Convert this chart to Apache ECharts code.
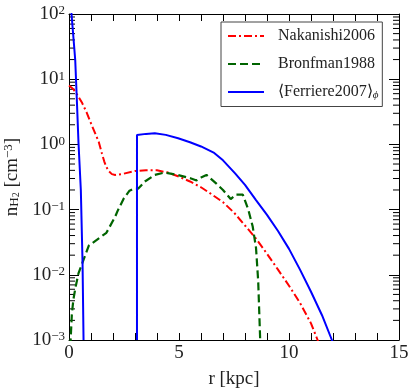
<!DOCTYPE html>
<html>
<head>
<meta charset="utf-8">
<script src="https://cdn.jsdelivr.net/npm/echarts@6/dist/echarts.min.js"></script>
<style>
  html, body { margin: 0; padding: 0; background: #fff; }
  #chart { width: 413px; height: 391px; }
</style>
</head>
<body>
<div id="chart"></div>
<script>
// Nakanishi2006 (red, dash-dot)
var rNak = [0, 0.2, 0.4, 0.6, 0.8, 1.0, 1.2, 1.35, 1.5, 1.6, 1.7, 1.8, 1.95, 2.1, 2.4, 3.0, 3.5, 4.0, 4.5, 5.0, 5.5, 6.0, 6.5, 7.0, 7.5, 8.0, 8.5, 9.0, 9.5, 10.0, 10.5, 11.0, 11.3, 11.6]
var nNak = [8.0, 7.0, 5.6, 4.3, 3.1, 2.1, 1.45, 1.1, 0.72, 0.55, 0.45, 0.39, 0.35, 0.34, 0.35, 0.39, 0.40, 0.40, 0.37, 0.32, 0.27, 0.22, 0.17, 0.13, 0.09, 0.057, 0.036, 0.021, 0.012, 0.0068, 0.0037, 0.0018, 0.001, 0.0005]

// Bronfman1988 (green, dashed)
var rBron = [0.06, 0.13, 0.2, 0.28, 0.43, 0.66, 0.9, 1.7, 2.1, 2.23, 2.5, 2.75, 2.95, 3.15, 3.45, 3.9, 4.35, 4.95, 5.55, 5.8, 6.0, 6.25, 6.7, 7.0, 7.35, 7.6, 7.9, 8.15, 8.35, 8.5, 8.6, 8.7]
var nBron = [0.0008, 0.0025, 0.0042, 0.006, 0.0105, 0.017, 0.028, 0.044, 0.078, 0.099, 0.15, 0.195, 0.21, 0.21, 0.27, 0.34, 0.37, 0.34, 0.30, 0.28, 0.31, 0.34, 0.25, 0.2, 0.145, 0.17, 0.17, 0.10, 0.055, 0.026, 0.008, 0.0008]

// <Ferriere2007>_phi (blue, solid); null breaks the line
var rFer = [0.03, 0.114, 0.2, 0.283, 0.36, 0.433, 0.538, 0.616, 0.661, 1.5, 3.09, 3.09, 3.5, 3.9, 4.4, 4.96, 5.5, 6.0, 6.6, 7.0, 7.55, 8.0, 8.5, 9.0, 9.5, 10.0, 10.5, 11.0, 11.5, 11.95, 12.1]
var nFer = [224, 100, 44, 19.7, 4.5, 1.03, 0.2, 0.015, 0.001, null, 0.001, 1.39, 1.45, 1.48, 1.4, 1.24, 1.08, 0.93, 0.74, 0.57, 0.36, 0.24, 0.14, 0.083, 0.047, 0.025, 0.012, 0.0055, 0.0024, 0.001, 0.0007]

// log axis minor tick values (2..9 x 10^d)
var minorTickVals = []
for (var d = -3; d < 2; d++) {
  for (var k = 2; k <= 9; k++) minorTickVals.push(k * Math.pow(10, d))
}

var FONT = 'Liberation Serif'

function zip(xs, ys) {
  return xs.map(function (x, i) { return [x, ys[i]] })
}

function supLabel(v) {
  var e = Math.round(Math.log10(v))
  return '{b|10}{e|' + (e < 0 ? '\u2212' + (-e) : e) + '}'
}

var chart = echarts.init(document.getElementById('chart'), null, { renderer: 'canvas' })

var xAxisBase = {
  type: 'value',
  min: 0,
  max: 15,
  interval: 1,
  axisLine: { show: true, onZero: false, lineStyle: { color: '#000', width: 1 } },
  axisTick: { show: true, inside: true, length: 7, lineStyle: { color: '#000', width: 1 } },
  splitLine: { show: false }
}

var yAxisBase = {
  type: 'log',
  logBase: 10,
  min: 0.001,
  max: 100,
  axisLine: { show: true, onZero: false, lineStyle: { color: '#000', width: 1 } },
  axisTick: { show: true, inside: true, length: 10, lineStyle: { color: '#000', width: 1 } },
  splitLine: { show: false },
  minorTick: { show: false }
}

var option = {
  animation: false,
  backgroundColor: '#fff',
  grid: { left: 69, right: 14, top: 14, bottom: 51, outerBoundsMode: 'none', containLabel: false },
  legend: {
    orient: 'vertical',
    left: 221,
    top: 22,
    padding: [6, 4, 6, 6],
    itemWidth: 36,
    itemHeight: 14,
    itemGap: 12,
    borderColor: '#444',
    borderWidth: 1,
    borderRadius: 0,
    itemStyle: { opacity: 0 },
    data: ['Nakanishi2006', 'Bronfman1988', 'Ferriere2007'],
    formatter: function (name) {
      if (name === 'Ferriere2007') return '{t|\u27e8Ferriere2007\u27e9}{s|\u03d5}'
      return '{t|' + name + '}'
    },
    textStyle: {
      fontFamily: FONT,
      fontSize: 16,
      color: '#222',
      padding: [0, 0, 0, 9],
      rich: {
        t: { fontFamily: FONT, fontSize: 16, color: '#222' },
        s: { fontFamily: FONT, fontSize: 11, fontStyle: 'italic', color: '#222', verticalAlign: 'bottom', padding: [6, 0, 0, 0] }
      }
    }
  },
  xAxis: [
    Object.assign({}, xAxisBase, {
      position: 'bottom',
      name: 'r [kpc]',
      nameLocation: 'middle',
      nameGap: 30,
      nameTextStyle: { fontFamily: FONT, fontSize: 19, color: '#222' },
      axisLabel: {
        show: true,
        interval: 0,
        margin: 4,
        fontFamily: FONT,
        fontSize: 19,
        color: '#222',
        formatter: function (v) { return v % 5 === 0 ? String(v) : '' }
      }
    }),
    Object.assign({}, xAxisBase, {
      position: 'top',
      axisLabel: { show: false }
    })
  ],
  yAxis: [
    Object.assign({}, yAxisBase, {
      position: 'left',
      name: '{a|n}{s|H}{t|2}{a| [cm}{p|\u22123}{a|]}',
      nameLocation: 'middle',
      nameGap: 41,
      nameRotate: 90,
      nameTextStyle: {
        fontFamily: FONT,
        fontSize: 19,
        color: '#222',
        rich: {
          a: { fontFamily: FONT, fontSize: 19, color: '#222' },
          s: { fontFamily: FONT, fontSize: 13, color: '#222', verticalAlign: 'bottom' },
          t: { fontFamily: FONT, fontSize: 10, color: '#222', verticalAlign: 'bottom' },
          p: { fontFamily: FONT, fontSize: 13, color: '#222', verticalAlign: 'top' }
        }
      },
      axisLabel: {
        show: true,
        margin: 4,
        formatter: supLabel,
        rich: {
          b: { fontFamily: FONT, fontSize: 19, color: '#222' },
          e: { fontFamily: FONT, fontSize: 13, color: '#222', verticalAlign: 'top' }
        }
      }
    }),
    Object.assign({}, yAxisBase, {
      position: 'right',
      axisLabel: { show: false }
    })
  ],
  series: [
    {
      name: 'Nakanishi2006',
      type: 'line',
      data: zip(rNak, nNak),
      showSymbol: false,
      symbol: 'none',
      clip: true,
      color: '#ff0000',
      lineStyle: { color: '#ff0000', width: 2, type: [8, 3, 2, 3] }
    },
    {
      name: 'Bronfman1988',
      type: 'line',
      data: zip(rBron, nBron),
      showSymbol: false,
      symbol: 'none',
      clip: true,
      color: '#006400',
      lineStyle: { color: '#006400', width: 2.2, type: [8, 4] }
    },
    {
      name: 'Ferriere2007',
      type: 'line',
      data: zip(rFer, nFer),
      showSymbol: false,
      symbol: 'none',
      connectNulls: false,
      clip: true,
      color: '#0000ff',
      lineStyle: { color: '#0000ff', width: 2, type: 'solid' }
    },
    {
      // minor ticks of the log y axis on both sides of the frame
      name: 'minorTicks',
      type: 'custom',
      silent: true,
      clip: false,
      data: minorTickVals.map(function (v) { return [0, v] }),
      renderItem: function (params, api) {
        var left = api.coord([0, api.value(1)])
        var right = api.coord([15, api.value(1)])
        var style = { stroke: '#000', lineWidth: 1 }
        return {
          type: 'group',
          children: [
            { type: 'line', shape: { x1: left[0], y1: left[1], x2: left[0] + 6, y2: left[1] }, style: style },
            { type: 'line', shape: { x1: right[0], y1: right[1], x2: right[0] - 6, y2: right[1] }, style: style }
          ]
        }
      }
    }
  ]
}

chart.setOption(option)
</script>
</body>
</html>
